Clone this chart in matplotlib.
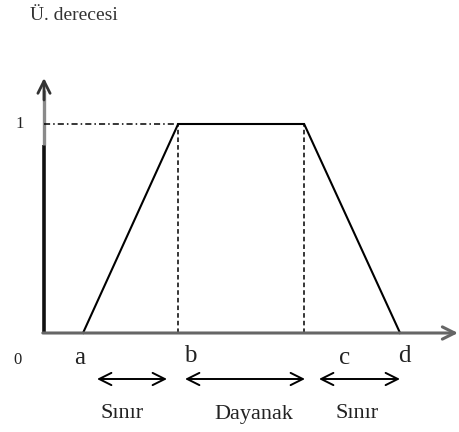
import matplotlib
matplotlib.use("Agg")
import matplotlib.pyplot as plt

# ---- data ----
point_labels = ["a", "b", "c", "d"]
x_points = [1.0, 3.44, 6.67, 9.13]      # a, b, c, d
membership = [0.0, 1.0, 1.0, 0.0]
y_tick_labels = ["0", "1"]
y_title = "Ü. derecesi"
region_labels = ["Sınır", "Dayanak", "Sınır"]

# pixel -> data helper (layout only)
OX, OY, SX, SY = 44.0, 333.0, 39.0, 209.0
def px(x, y):
    return (x - OX) / SX, (OY - y) / SY

fig = plt.figure(figsize=(4.59, 4.32), dpi=100)
ax = fig.add_axes([0, 0, 1, 1])
ax.axis("off")
ax.set_xlim((0 - OX) / SX, (459 - OX) / SX)
ax.set_ylim((OY - 432) / SY, (OY - 0) / SY)

serif = "Liberation Serif"
tc = "#222222"

# axes
x0, y0 = px(44, 333)
xt, _ = px(458, 333)
ax.annotate("", xy=(xt, 0), xytext=(x0 - 0.03, 0),
            arrowprops=dict(arrowstyle="->", color="#666666", lw=2.2,
                            mutation_scale=22, shrinkA=0, shrinkB=0))
_, ytop = px(44, 78)
_, ymid = px(44, 145)
ax.plot([0, 0], [0, ymid], color="#111111", lw=2.6, solid_capstyle="butt")
ax.plot([0, 0], [ymid, px(44, 90)[1]], color="#8a8a8a", lw=2.4,
        solid_capstyle="butt")
ax.annotate("", xy=(0, ytop), xytext=(0, px(44, 100)[1]),
            arrowprops=dict(arrowstyle="->", color="#333333", lw=2.0,
                            mutation_scale=22, shrinkA=0, shrinkB=0))

# trapezoid
ax.plot(x_points, membership, color="black", lw=1.5, solid_joinstyle="miter")
# reference lines
ax.plot([0, x_points[1]], [1, 1], color="black", lw=1.1, linestyle="-.",
        dashes=(4, 2, 1, 2))
for xv in (x_points[1], x_points[2]):
    ax.plot([xv, xv], [0, 1], color="black", lw=1.1, linestyle=(0, (3, 2)))

# y labels
ax.text(*px(20, 124), y_tick_labels[1], fontsize=12, family=serif,
        ha="center", va="center", color=tc)
ax.text(*px(17, 360), y_tick_labels[0], fontsize=12, family=serif,
        ha="center", va="center", color=tc)
ax.text(*px(30, 16), y_title, fontsize=14, family=serif, ha="left",
        va="center", color="#333333")

# point labels
label_pos = [(80, 358), (190, 356), (345, 358), (404, 356)]
for lab, (lx, ly) in zip(point_labels, label_pos):
    ax.text(*px(lx, ly), lab, fontsize=18, family=serif, ha="center",
            va="center", color=tc)

# double arrows
spans = [(97, 167), (185, 305), (319, 400)]
for (s, e) in spans:
    ax.annotate("", xy=px(e, 379), xytext=px(s, 379),
                arrowprops=dict(arrowstyle="<->", color="black", lw=1.4,
                                mutation_scale=22, shrinkA=0, shrinkB=0))

# region labels
reg_pos = [122, 254, 357]
for lab, lx in zip(region_labels, reg_pos):
    ax.text(*px(lx, 414), lab, fontsize=16, family=serif, ha="center",
            va="center", color=tc)

fig.savefig("out.png", dpi=100)
